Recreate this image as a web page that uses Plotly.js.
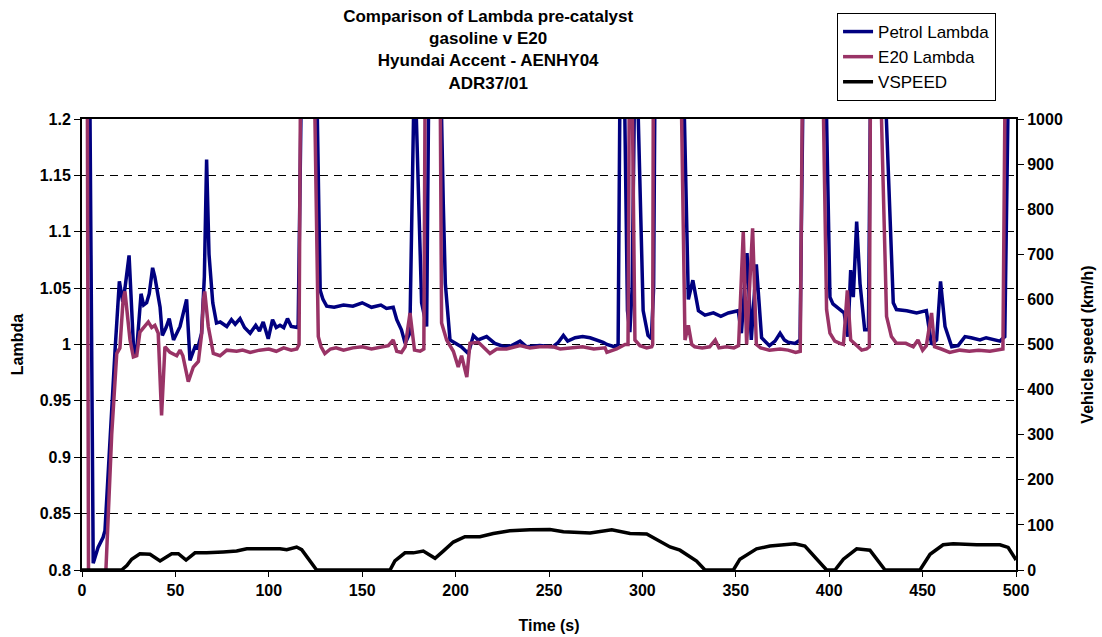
<!DOCTYPE html>
<html>
<head>
<meta charset="utf-8">
<script src="https://cdn.plot.ly/plotly-3.0.1.min.js"></script>
<style>html,body{margin:0;padding:0;background:#fff;}#chart{width:1102px;height:637px;}</style>
</head>
<body>
<div id="chart"></div>
<script>
// Petrol Lambda (values above 1.2 are off-scale)
const petrolTime = [0,4.3,6,8.6,11.3,12.3,17.7,20,21.8,23,25.2,27.8,29.5,31.6,33,34.6,36,37.8,39,41.8,43,45,46.7,49,52.5,54.5,56,57.8,60.5,62,64,65.5,66.7,68,70,72,74,77.5,80,82,84.6,87,90,93,95,97,99.7,102,104,106,108,110,112,115.7,117.6,118,125.5,126,127.5,129,131,135,140,145,150,155,160,163,166.6,168.5,171,173,175.5,176.5,177,178.5,179,181.8,184.5,185.5,186,192,192.5,193.4,194.5,197,200.5,203,206.8,209.5,212,216.6,221,226,230,234.5,238,245,252,255,257.7,260,264,268,272,275.5,279,281,285,287,287.7,288.3,289.8,290.7,292,293.3,294.5,295.6,296,297.2,297.8,300.4,303,304.8,306,306.7,307,321.5,322.5,324.6,327,330,333.5,338,342,346,351.3,353,356,358.3,361,363.8,368,371,373.7,376,378,381.7,384.4,385.8,386.5,398,398.6,400.4,402,405.8,408,410,411.5,412.9,414.7,416.5,419,421,421.8,422.5,430,430.6,434.3,436,441.5,446.8,452,454.8,457.5,459.6,462,465.6,469,472.7,476,480.7,484,487.9,491.4,494,495.8,496.5,500];
const petrolLambda = [1.3,1.2,0.806,0.82,0.829,0.835,0.995,1.056,1.038,1.05,1.079,0.99,1.0,1.045,1.035,1.037,1.045,1.068,1.06,1.033,1.008,1.015,1.023,1.004,1.016,1.03,1.04,0.986,0.998,0.997,1.01,1.06,1.164,1.08,1.037,1.019,1.02,1.016,1.022,1.018,1.023,1.015,1.01,1.017,1.012,1.02,1.005,1.022,1.015,1.017,1.015,1.023,1.016,1.015,1.2,1.3,1.3,1.2,1.048,1.04,1.034,1.033,1.035,1.034,1.037,1.033,1.035,1.032,1.033,1.022,1.013,1.001,1.01,1.2,1.3,1.3,1.2,1.037,1.016,1.2,1.3,1.3,1.2,1.125,1.054,1.004,1.0,0.998,0.992,1.008,1.004,1.007,1.001,0.998,0.999,1.003,0.998,0.999,0.998,1.002,1.008,1.003,1.006,1.007,1.006,1.004,1.002,1.0,0.998,1.0,1.2,1.3,1.3,1.2,1.03,1.011,1.05,1.2,1.3,1.3,1.2,1.03,1.008,1.005,1.05,1.2,1.3,1.3,1.2,1.04,1.057,1.03,1.026,1.028,1.025,1.028,1.03,1.01,1.081,1.004,1.071,1.006,0.999,1.003,1.01,1.004,1.002,1.001,1.004,1.2,1.3,1.3,1.2,1.042,1.036,1.031,1.028,1.007,1.066,1.042,1.109,1.054,1.013,1.013,1.2,1.3,1.3,1.2,1.037,1.031,1.03,1.028,1.03,1.0,1.004,1.056,1.016,0.998,0.999,1.007,1.006,1.004,1.006,1.004,1.003,1.007,1.2,1.3,1.3];

// E20 Lambda
const e20Time = [0,2.6,2.9,3.5,5,10,12,12.8,15.9,18.6,20.3,22,23,25.7,27.5,29.3,31,33.7,35.5,37.3,39,40.8,42.6,44.4,47.1,50.7,52.5,54,56.9,59.6,62.3,64.1,65,65.7,67.6,70.3,73.9,77.5,82.8,86,90,95,100,104,108,112,115,116.2,116.8,117.2,124.2,124.7,126.5,128,130,133,136,140,145,150,155,160,164,166.6,168.5,171,173,175.6,178,181,183,183.6,184,191.5,192,192.5,195.2,198.8,201.4,203.2,206,207.7,212.2,215,218.4,222,227.3,234.5,239.8,245,252.3,256,261.2,268,274,280,281,286.2,290.7,292.3,292.9,293.5,294.2,294.7,296,298.7,302.3,305,305.5,305.8,306.3,320.5,321,322.8,324.6,326.4,328,332,336,339,341,345,349,351.5,354,355.8,359,361,363.3,368,373.7,378,382,384.5,385.3,386,396,396.8,398.6,400.4,403,405.8,407.6,408.5,409.7,411.5,414.7,417.4,420,421.5,422,422.5,427.5,428,430.7,433.3,436,441,445,447.5,450,452,454.8,456.4,460,464.5,470,475,480,486,493,494,494.5,500];
const e20Lambda = [1.3,1.3,1.2,0.78,0.7,0.7,0.76,0.8,0.92,0.992,0.997,1.04,1.047,1.004,0.989,0.99,1.011,1.017,1.02,1.015,1.017,1.01,0.937,0.998,0.993,0.99,0.995,0.99,0.967,0.98,0.985,1.01,1.04,1.047,1.016,0.992,0.99,0.995,0.994,0.995,0.993,0.995,0.996,0.994,0.997,0.995,0.996,1.0,1.2,1.3,1.3,1.2,1.007,0.998,0.992,0.996,0.997,0.995,0.997,0.998,0.996,0.998,0.999,1.004,0.994,0.993,0.998,1.028,0.995,0.994,0.996,1.2,1.3,1.3,1.2,1.019,1.004,0.994,0.98,0.99,0.971,1.001,1.002,0.997,0.992,0.996,0.996,0.999,0.997,0.998,0.998,0.996,0.997,0.998,0.996,0.997,0.993,0.996,1.0,1.0,1.2,1.3,1.3,1.2,1.004,0.999,0.997,0.998,1.0,1.2,1.3,1.3,1.2,1.004,1.017,1.0,0.998,0.997,0.998,1.004,0.997,0.998,0.997,0.999,1.1,1.0,1.103,1.0,0.997,0.995,0.996,0.995,0.993,0.994,1.2,1.3,1.3,1.2,1.031,1.01,1.003,1.001,1.0,1.02,1.048,1.004,0.999,0.995,0.996,0.998,1.2,1.3,1.3,1.2,1.025,1.007,1.001,1.001,0.998,1.004,0.995,0.999,1.028,0.998,0.996,0.993,0.995,0.994,0.995,0.994,0.996,1.2,1.3,1.3];

// Vehicle speed (km/h)
const speedTime = [0,21.2,24,26.6,31,36.4,41.8,48,51.6,55.7,60.5,66.7,75.6,82.8,88.2,98.9,106,109.6,114.9,117.6,125.6,164.9,167.5,172.9,177.4,182.7,189,193.4,198.8,205,213,220.2,229.1,239.8,250.5,257.7,272,283.6,293.4,302.3,307.7,314.8,320.1,324.6,329,333.5,348.7,352.2,361.1,368.3,381.7,387,398.6,403.1,407.6,414.7,421.8,429.9,448.6,454,461,466.4,479,491.4,495.8,499.5,500];
const speedValue = [0,0,10,24,36,35,20,36,36,22,38,38,40,42,47,47,47,45,51,45,0,0,20,38,38,42,26,42,62,74,74,81,87,89,90,85,82,89,81,80,68,51,44,31,20,0,0,24,47,53,58,53,0,0,24,47,44,0,0,35,56,58,56,56,50,26,22];

const FONT = 'Arial, "Liberation Sans", sans-serif';

const traces = [
  {x: petrolTime, y: petrolLambda, name: 'Petrol Lambda', type: 'scatter', mode: 'lines',
   line: {color: '#000080', width: 3.5}},
  {x: e20Time, y: e20Lambda, name: 'E20 Lambda', type: 'scatter', mode: 'lines',
   line: {color: '#993366', width: 3.5}},
  {x: speedTime, y: speedValue, name: 'VSPEED', type: 'scatter', mode: 'lines', yaxis: 'y2',
   line: {color: '#000000', width: 3.5}}
];

const layout = {
  width: 1102, height: 637,
  paper_bgcolor: '#ffffff', plot_bgcolor: '#ffffff',
  font: {family: FONT, color: '#000'},
  margin: {l: 82, r: 86, t: 119, b: 67},
  title: {
    text: '<b>Comparison of Lambda pre-catalyst<br>gasoline v E20<br>Hyundai Accent - AENHY04<br>ADR37/01</b>',
    font: {family: FONT, size: 17, color: '#000'},
    x: 0.443, xanchor: 'center', y: 0.965, yanchor: 'top'
  },
  showlegend: true,
  legend: {
    x: 0.8084, xanchor: 'left', y: 1.235, yanchor: 'top',
    bordercolor: '#000', borderwidth: 1, bgcolor: '#fff',
    font: {family: FONT, size: 17, color: '#000'},
    tracegroupgap: 0
  },
  xaxis: {
    range: [0, 500], dtick: 50, tick0: 0,
    showgrid: false, zeroline: false,
    showline: true, linecolor: '#000', linewidth: 2, mirror: true,
    ticks: 'outside', ticklen: 5, tickcolor: '#000', tickwidth: 1,
    tickfont: {family: FONT, size: 16, color: '#000', weight: 'bold'},
    title: {text: '<b>Time (s)</b>', font: {family: FONT, size: 16, color: '#000'}, standoff: 22}
  },
  yaxis: {
    range: [0.8, 1.2], dtick: 0.05, tick0: 0.8,
    showgrid: true, gridcolor: '#000', gridwidth: 1, griddash: '8px,6px',
    zeroline: false,
    showline: true, linecolor: '#000', linewidth: 2,
    ticks: 'outside', ticklen: 6, tickcolor: '#000', tickwidth: 1,
    tickfont: {family: FONT, size: 16, color: '#000', weight: 'bold'},
    title: {text: '<b>Lambda</b>', font: {family: FONT, size: 16, color: '#000'}, standoff: 12}
  },
  yaxis2: {
    overlaying: 'y', side: 'right',
    range: [0, 1000], dtick: 100, tick0: 0,
    showgrid: false, zeroline: false,
    showline: true, linecolor: '#000', linewidth: 2,
    ticks: 'outside', ticklen: 6, tickcolor: '#000', tickwidth: 1,
    tickfont: {family: FONT, size: 16, color: '#000', weight: 'bold'},
    title: {text: '<b>Vehicle speed (km/h)</b>', font: {family: FONT, size: 16, color: '#000'}, standoff: 20}
  }
};

Plotly.newPlot('chart', traces, layout, {staticPlot: true, displayModeBar: false});
</script>
</body>
</html>
